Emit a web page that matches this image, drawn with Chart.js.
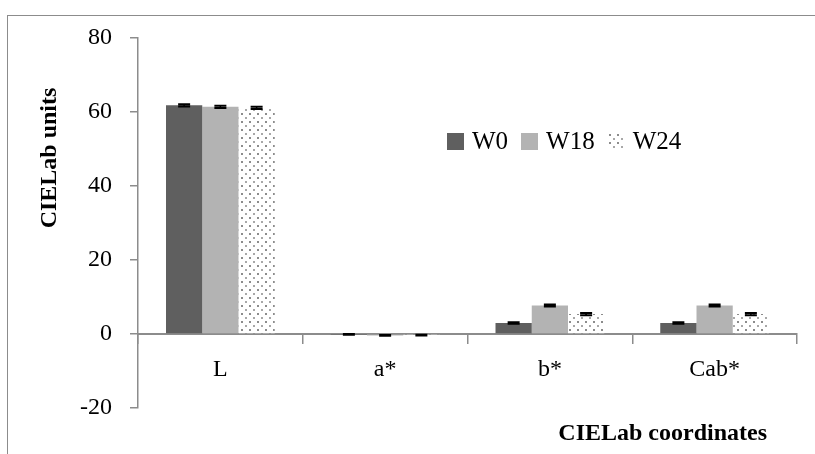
<!DOCTYPE html>
<html>
<head>
<meta charset="utf-8">
<script src="https://cdn.jsdelivr.net/npm/chart.js@4/dist/chart.umd.min.js"></script>
<style>
  body { margin: 0; background: #fff; }
  #wrap { position: relative; width: 815px; height: 454px; }
  #frame {
    position: absolute; left: 7px; top: 15px; right: 0; bottom: 0;
    border-left: 1px solid #8c8c8c; border-top: 1px solid #8c8c8c;
  }
  #chart { position: absolute; left: 0; top: 0; }
  #legend {
    position: absolute; left: 447px; top: 127px;
    display: flex; align-items: center;
    font-family: "Liberation Serif", serif; font-size: 25px; color: #000;
  }
  #legend .item { display: flex; align-items: center; margin-right: 13px; }
  #legend .box { width: 17px; height: 17px; margin-right: 8px; }
</style>
</head>
<body>
<div id="wrap">
  <div id="frame"></div>
  <canvas id="chart" width="815" height="454"></canvas>
  <div id="legend"></div>
</div>
<script>
// chart data
const categories = ['L', 'a*', 'b*', 'Cab*'];
const seriesNames = ['W0', 'W18', 'W24'];
const w0Values = [61.8, -0.1, 3.0, 3.0];
const w18Values = [61.4, -0.4, 7.7, 7.7];
const w24Values = [61.1, -0.3, 5.4, 5.4];
const w0Errors = [0.3, 0.1, 0.2, 0.2];
const w18Errors = [0.3, 0.1, 0.3, 0.3];
const w24Errors = [0.3, 0.1, 0.3, 0.3];
const yTicks = [-20, 0, 20, 40, 60, 80];

const serif = '"Liberation Serif", serif';

// dotted fill used for the W24 series
function makeDots() {
  const tile = document.createElement('canvas');
  tile.width = 8;
  tile.height = 8;
  const c = tile.getContext('2d');
  c.fillStyle = '#fff';
  c.fillRect(0, 0, 8, 8);
  c.fillStyle = '#8c8c8c';
  c.fillRect(1, 1, 2, 2);
  c.fillStyle = '#a8a8a8';
  c.fillRect(5, 5, 2, 2);
  return tile;
}

const ctx = document.getElementById('chart').getContext('2d');
const dots = ctx.createPattern(makeDots(), 'repeat');

const fills = ['#5f5f5f', '#b3b3b3', dots];
const allValues = [w0Values, w18Values, w24Values];
const allErrors = [w0Errors, w18Errors, w24Errors];

// draw the small error bars on top of each bar
const errorBars = {
  id: 'errorBars',
  afterDatasetsDraw(chart) {
    const c = chart.ctx;
    const y = chart.scales.y;
    c.save();
    c.strokeStyle = '#000';
    chart.data.datasets.forEach((ds, i) => {
      const meta = chart.getDatasetMeta(i);
      meta.data.forEach((bar, j) => {
        const v = ds.data[j];
        const e = ds.errors[j];
        const top = y.getPixelForValue(v + e);
        const bottom = y.getPixelForValue(v - e);
        c.lineWidth = 1.5;
        c.beginPath();
        c.moveTo(bar.x, top);
        c.lineTo(bar.x, bottom);
        c.stroke();
        c.lineWidth = 2;
        c.beginPath();
        c.moveTo(bar.x - 6, top);
        c.lineTo(bar.x + 6, top);
        c.moveTo(bar.x - 6, bottom);
        c.lineTo(bar.x + 6, bottom);
        c.stroke();
      });
    });
    c.restore();
  },
};

// axis titles placed as in the original figure
const axisTitles = {
  id: 'axisTitles',
  afterDraw(chart) {
    const c = chart.ctx;
    const area = chart.chartArea;
    c.save();
    c.fillStyle = '#000';
    c.font = 'bold 24px ' + serif;
    c.textBaseline = 'middle';
    c.textAlign = 'right';
    c.fillText('CIELab coordinates', area.right - 30, 434);
    c.translate(50, 158);
    c.rotate(-Math.PI / 2);
    c.textAlign = 'center';
    c.fillText('CIELab units', 0, 0);
    c.restore();
  },
};

new Chart(ctx, {
  type: 'bar',
  data: {
    labels: categories,
    datasets: seriesNames.map((name, i) => ({
      label: name,
      data: allValues[i],
      errors: allErrors[i],
      backgroundColor: fills[i],
      borderWidth: 0,
      categoryPercentage: 0.66,
      barPercentage: 1,
    })),
  },
  options: {
    responsive: false,
    animation: false,
    layout: { padding: { left: 0, right: 18, top: 38, bottom: 46 } },
    plugins: {
      legend: { display: false },
      tooltip: { enabled: false },
    },
    scales: {
      x: {
        position: { y: 0 },
        grid: {
          display: true,
          drawOnChartArea: false,
          offset: true,
          tickLength: 9,
          color: '#8c8c8c',
          lineWidth: 1.5,
        },
        border: { color: '#8c8c8c', width: 2 },
        ticks: {
          color: '#000',
          font: { family: serif, size: 24 },
          padding: 12,
        },
      },
      y: {
        min: -20,
        max: 80,
        afterFit: (scale) => { scale.width = 138; },
        afterBuildTicks: (scale) => {
          scale.ticks = yTicks.map((v) => ({ value: v }));
        },
        grid: {
          drawOnChartArea: false,
          tickLength: 8,
          color: '#8c8c8c',
          lineWidth: 1.5,
        },
        border: { color: '#8c8c8c', width: 1.5 },
        ticks: {
          color: '#000',
          font: { family: serif, size: 24 },
          padding: 18,
        },
      },
    },
  },
  plugins: [errorBars, axisTitles],
});

// HTML legend with the same swatches
const legend = document.getElementById('legend');
seriesNames.forEach((name, i) => {
  const item = document.createElement('div');
  item.className = 'item';
  const box = document.createElement('canvas');
  box.className = 'box';
  box.width = 17;
  box.height = 17;
  const bc = box.getContext('2d');
  bc.fillStyle = i === 2 ? bc.createPattern(makeDots(), 'repeat') : fills[i];
  bc.fillRect(0, 0, 17, 17);
  const text = document.createElement('span');
  text.textContent = name;
  item.appendChild(box);
  item.appendChild(text);
  legend.appendChild(item);
});
</script>
</body>
</html>
